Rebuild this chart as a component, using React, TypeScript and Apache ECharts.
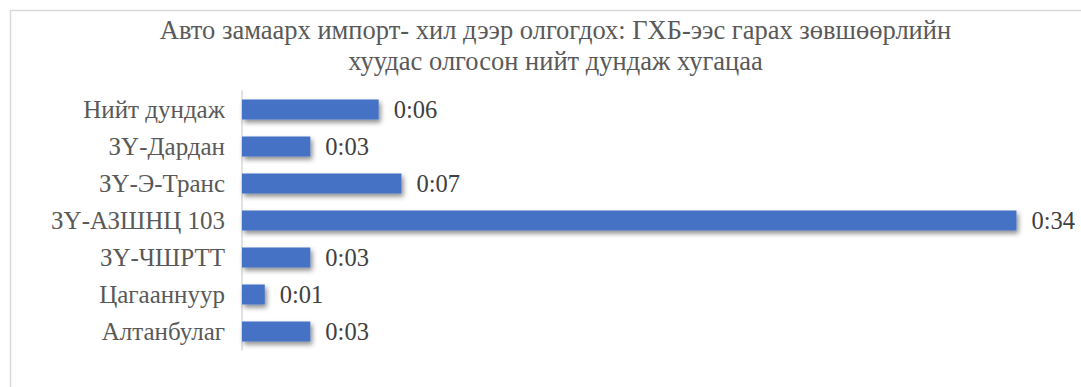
import React, { useEffect, useRef } from "react";
import * as echarts from "echarts";

const titleLines = [
  "Авто замаарх импорт- хил дээр олгогдох: ГХБ-ээс гарах зөвшөөрлийн",
  "хуудас олгосон нийт дундаж хугацаа",
];
const categories = [
  "Нийт дундаж",
  "ЗҮ-Дардан",
  "ЗҮ-Э-Транс",
  "ЗҮ-АЗШНЦ 103",
  "ЗҮ-ЧШРТТ",
  "Цагааннуур",
  "Алтанбулаг",
];
// minutes
const minutes = [6, 3, 7, 34, 3, 1, 3];

const fmt = (m: number) => {
  const h = Math.floor(m / 60);
  const mm = Math.round(m % 60);
  return `${h}:${mm < 10 ? "0" + mm : mm}`;
};

const FONT = "'Liberation Serif', 'Times New Roman', serif";

export default function App() {
  const ref = useRef<HTMLDivElement>(null);
  useEffect(() => {
    document.body.style.margin = "0";
    const chart = echarts.init(ref.current!, undefined, { renderer: "svg" });
    chart.setOption({
      animation: false,
      backgroundColor: "#ffffff",
      title: {
        text: titleLines.join("\n"),
        left: 555.5,
        top: 15,
        textAlign: "center",
        padding: 0,
        textStyle: {
          fontFamily: FONT,
          fontSize: 26.5,
          fontWeight: "normal",
          color: "#595959",
          lineHeight: 30.5,
        },
      },
      graphic: [
        {
          type: "rect",
          silent: true,
          z: -10,
          shape: { x: 10.5, y: 10.5, width: 1092, height: 420 },
          style: { fill: "none", stroke: "#d9d9d9", lineWidth: 1.5 },
        },
      ],
      grid: { left: 242, top: 91, height: 259, width: 820, containLabel: false },
      xAxis: {
        type: "value",
        min: 0,
        max: 36,
        show: false,
        splitLine: { show: false },
      },
      yAxis: {
        type: "category",
        data: categories,
        inverse: true,
        axisLine: { show: true, lineStyle: { color: "#d9d9d9", width: 1.5 } },
        axisTick: { show: false },
        axisLabel: {
          fontFamily: FONT,
          fontSize: 25,
          color: "#595959",
          margin: 17,
        },
      },
      series: [
        {
          type: "bar",
          data: minutes,
          barWidth: 20,
          itemStyle: {
            color: "#4472C4",
            shadowColor: "rgba(0,0,0,0.45)",
            shadowBlur: 5,
            shadowOffsetX: 2,
            shadowOffsetY: 3,
          },
          label: {
            show: true,
            position: "right",
            distance: 15,
            fontFamily: FONT,
            fontSize: 24.5,
            color: "#404040",
            formatter: (p: any) => fmt(p.value),
          },
        },
      ],
    });
    return () => chart.dispose();
  }, []);
  return (
    <div
      ref={ref}
      style={{ position: "fixed", left: 0, top: 0, width: 1081, height: 387 }}
    />
  );
}
